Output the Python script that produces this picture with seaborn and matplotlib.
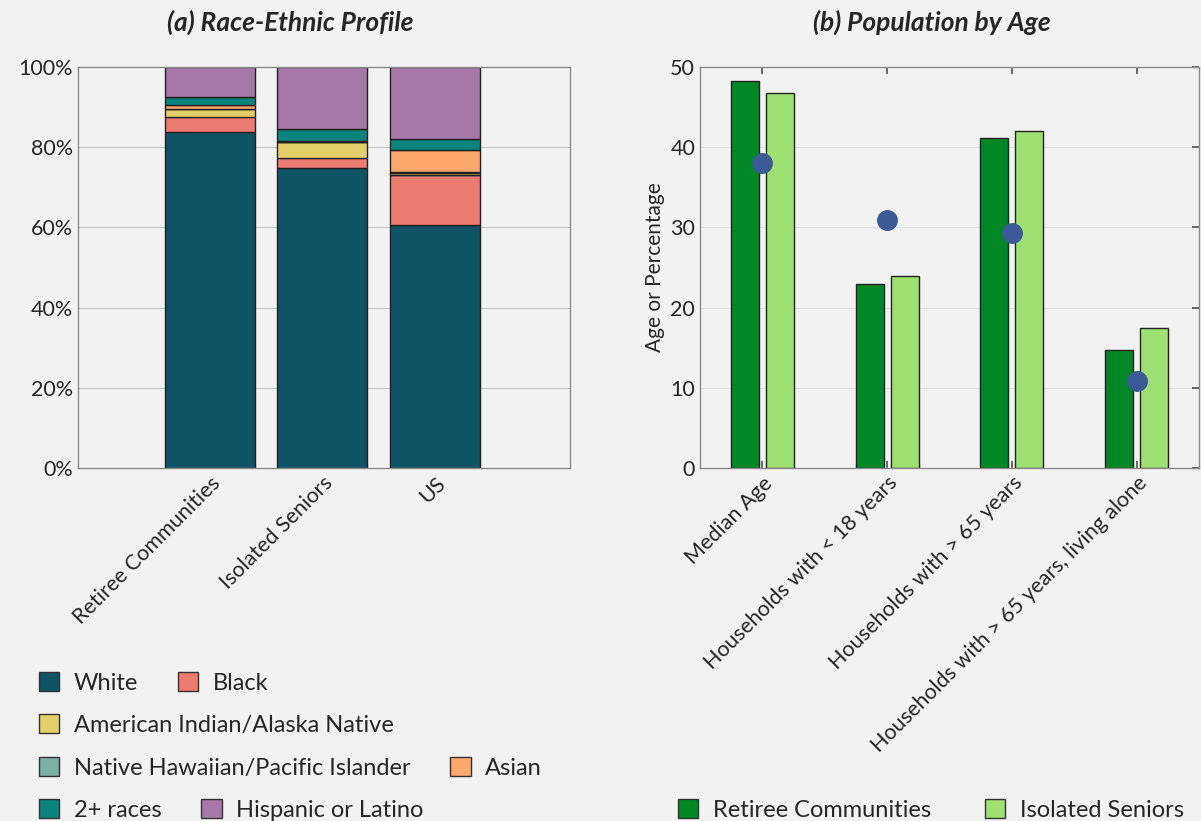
import matplotlib
matplotlib.use("agg")
import matplotlib.pyplot as plt
from matplotlib.patches import Patch
from matplotlib.ticker import PercentFormatter
import numpy as np
import pandas as pd
import seaborn as sns

# panel (a): race-ethnic shares (%)
groups = ["Retiree Communities", "Isolated Seniors", "US"]
races = ["White", "Black", "American Indian/Alaska Native",
         "Native Hawaiian/Pacific Islander", "Asian", "2+ races",
         "Hispanic or Latino"]
white = [83.7, 74.7, 60.6]
black = [3.8, 2.7, 12.5]
aian = [2.0, 3.8, 0.5]
nhpi = [0.1, 0.1, 0.2]
asian = [0.8, 0.3, 5.6]
multi = [2.2, 2.9, 2.7]
hispanic = [7.4, 15.5, 17.9]
race_colors = ["#0f5464", "#ec7b72", "#e2cf67", "#7bb0a4", "#fda86d",
               "#0a857c", "#a678a8"]

# panel (b): population by age
age_cats = ["Median Age", "Households with < 18 years",
            "Households with > 65 years",
            "Households with > 65 years, living alone"]
retiree_vals = [48.3, 23.0, 41.2, 14.7]
isolated_vals = [46.7, 23.9, 42.0, 17.4]
us_vals = [38.0, 30.9, 29.3, 10.9]
age_groups = ["Retiree Communities", "Isolated Seniors"]
age_palette = {"Retiree Communities": "#008826", "Isolated Seniors": "#9ee072"}
US_COLOR = "#3a5b96"

BG = "#f2f2f2"
sns.set_theme(style="ticks")
plt.rcParams["font.family"] = ["Lato", "DejaVu Sans"]
plt.rcParams["figure.facecolor"] = BG
plt.rcParams["axes.facecolor"] = BG
plt.rcParams["savefig.facecolor"] = BG

fig = plt.figure(figsize=(12.01, 8.21), dpi=100)
ax1 = fig.add_axes([78 / 1201, 1 - 468 / 821, 492 / 1201, 401 / 821])
ax2 = fig.add_axes([700 / 1201, 1 - 468 / 821, 499 / 1201, 401 / 821])

# --- (a) stacked bars
race_vals = [white, black, aian, nhpi, asian, multi, hispanic]
bottom = np.zeros(len(groups))
for name, vals, col in zip(races, race_vals, race_colors):
    sns.barplot(x=groups, y=vals, ax=ax1, color=col, width=0.8,
                bottom=bottom, edgecolor="#222222", linewidth=1.0,
                saturation=1)
    bottom = bottom + np.array(vals)

ax1.set_ylim(0, 100)
ax1.set_xlim(-1.17, 3.2)
ax1.yaxis.set_major_formatter(PercentFormatter(decimals=0))
ax1.set_yticks([0, 20, 40, 60, 80, 100])
ax1.grid(axis="y", color="#c8c8c8", linewidth=0.8)
ax1.set_axisbelow(True)
ax1.set_xlabel("")
ax1.set_ylabel("")
ax1.tick_params(axis="x", labelsize=15.5, rotation=45, direction="in",
                top=True, bottom=False, length=5, color="#555555")
ax1.tick_params(axis="y", labelsize=15.5, length=0)
for lab in ax1.get_xticklabels():
    lab.set_ha("right")
    lab.set_rotation_mode("anchor")

# --- (b) grouped bars + US dots
age_df = pd.DataFrame({
    "category": age_cats * 2,
    "group": [age_groups[0]] * 4 + [age_groups[1]] * 4,
    "value": retiree_vals + isolated_vals,
})
sns.barplot(data=age_df, x="category", y="value", hue="group",
            hue_order=age_groups, order=age_cats, palette=age_palette,
            width=0.56, gap=0.2, edgecolor="#222222", linewidth=1.0,
            saturation=1, ax=ax2, legend=False)
sns.pointplot(x=age_cats, y=us_vals, order=age_cats, ax=ax2,
              color=US_COLOR, linestyle="none", markers="o",
              markersize=13, zorder=5)

ax2.set_ylim(0, 50)
ax2.set_xlim(-0.5, 3.5)
ax2.set_yticks([0, 10, 20, 30, 40, 50])
ax2.grid(axis="y", color="#e2e2e2", linewidth=0.8)
ax2.set_axisbelow(True)
ax2.set_xlabel("")
ax2.set_ylabel("Age or Percentage", fontsize=15)
ax2.tick_params(axis="x", labelsize=15.5, rotation=45, direction="in",
                top=True, length=5, color="#555555")
ax2.tick_params(axis="y", labelsize=15.5, direction="in", right=True,
                left=False, length=5, color="#555555")
for lab in ax2.get_xticklabels():
    lab.set_ha("right")
    lab.set_rotation_mode("anchor")

for ax in (ax1, ax2):
    for sp in ax.spines.values():
        sp.set_color("#8a8a8a")
        sp.set_linewidth(1.0)

# titles
fig.text(290 / 1201, 1 - 22 / 821, "(a) Race-Ethnic Profile", ha="center",
         va="center", fontsize=19, fontweight="bold", fontstyle="italic")
fig.text(932 / 1201, 1 - 22 / 821, "(b) Population by Age", ha="center",
         va="center", fontsize=19, fontweight="bold", fontstyle="italic")

# legends, one row at a time
def patch(col):
    return Patch(facecolor=col, edgecolor="#333333", linewidth=1.0)

rows = [[0, 1], [2], [3, 4], [5, 6]]
row_y = [683, 725, 768, 810]
for idx, y in zip(rows, row_y):
    fig.legend([patch(race_colors[i]) for i in idx], [races[i] for i in idx],
               loc="center left", bbox_to_anchor=(39 / 1201, 1 - y / 821),
               ncol=len(idx), frameon=False, fontsize=17, handlelength=0.85,
               handleheight=0.85, handletextpad=0.62, columnspacing=1.7,
               borderpad=0, borderaxespad=0)

fig.legend([patch(age_palette[g]) for g in age_groups], age_groups,
           loc="center left", bbox_to_anchor=(678 / 1201, 1 - 810 / 821),
           ncol=2, frameon=False, fontsize=17, handlelength=0.85,
           handleheight=0.85, handletextpad=0.62, columnspacing=2.3,
           borderpad=0, borderaxespad=0)

fig.savefig("out.png", dpi=100)
